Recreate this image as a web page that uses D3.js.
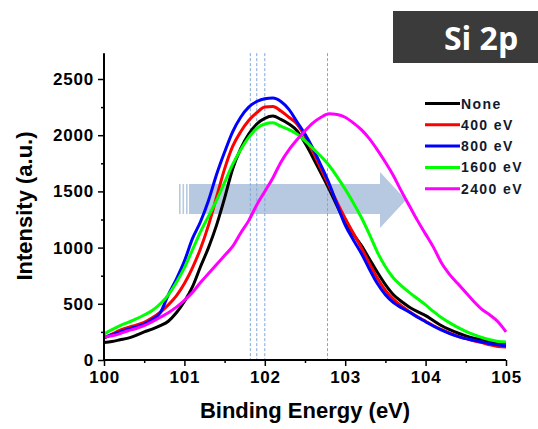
<!DOCTYPE html>
<html>
<head>
<meta charset="utf-8">
<script src="https://cdn.jsdelivr.net/npm/d3@7"></script>
<style>
  html, body { margin: 0; padding: 0; background: #fff; }
  svg { display: block; font-family: "Liberation Sans", Arial, sans-serif; }
</style>
</head>
<body>
<div id="chart"></div>
<script>
var energy = [100.0, 100.1, 100.2, 100.3, 100.4, 100.5, 100.6, 100.7, 100.8, 100.9,
              101.0, 101.1, 101.2, 101.3, 101.4, 101.5, 101.6, 101.7, 101.8, 101.9,
              102.0, 102.1, 102.2, 102.3, 102.4, 102.5, 102.6, 102.7, 102.8, 102.9,
              103.0, 103.1, 103.2, 103.3, 103.4, 103.5, 103.6, 103.7, 103.8, 103.9,
              104.0, 104.1, 104.2, 104.3, 104.4, 104.5, 104.6, 104.7, 104.8, 104.9, 105.0];

var seriesNames = ['None', '400 eV', '800 eV', '1600 eV', '2400 eV'];

var none = [155, 165, 180, 195, 220, 250, 275, 305, 345, 420,
            520, 650, 830, 1000, 1200, 1440, 1700, 1880, 2010, 2100,
            2150, 2170, 2140, 2100, 2040, 1930, 1800, 1660, 1520, 1370,
            1230, 1120, 1020, 900, 780, 670, 580, 520, 470, 430,
            395, 350, 305, 270, 240, 215, 195, 180, 165, 155, 150];

var ev400 = [195, 230, 265, 290, 310, 335, 375, 425, 490, 570,
             680, 820, 990, 1200, 1450, 1700, 1900, 2030, 2130, 2200,
             2250, 2255, 2215, 2160, 2100, 1990, 1850, 1700, 1550, 1400,
             1260, 1130, 1000, 860, 730, 620, 540, 480, 430, 385,
             345, 305, 270, 240, 210, 190, 170, 155, 135, 120, 115];

var ev800 = [200, 225, 250, 275, 295, 320, 360, 420, 580, 720,
             880, 1080, 1230, 1420, 1650, 1850, 2030, 2160, 2250, 2300,
             2325, 2330, 2300, 2230, 2120, 2010, 1880, 1730, 1570, 1380,
             1200, 1070, 950, 810, 680, 580, 510, 465, 425, 380,
             340, 300, 265, 235, 210, 190, 175, 160, 145, 135, 125];

var ev1600 = [230, 270, 305, 335, 365, 400, 440, 500, 580, 690,
              820, 980, 1140, 1280, 1420, 1580, 1740, 1870, 1980, 2060,
              2100, 2110, 2080, 2050, 2010, 1950, 1880, 1810, 1730, 1630,
              1520, 1400, 1270, 1120, 960, 830, 730, 660, 600, 545,
              490, 430, 375, 330, 290, 255, 225, 200, 180, 165, 160];

var ev2400 = [205, 215, 235, 260, 280, 305, 340, 380, 420, 470,
              530, 600, 690, 770, 850, 930, 1010, 1130, 1240, 1380,
              1500, 1620, 1760, 1870, 1960, 2040, 2110, 2160, 2190, 2185,
              2160, 2110, 2050, 1970, 1870, 1760, 1640, 1500, 1370, 1240,
              1120, 1000, 860, 760, 680, 600, 520, 450, 400, 340, 250];

var seriesColors = ['#000000', '#ff0000', '#0000ff', '#00ff00', '#ff00ff'];

// peak positions marked with dashed guides
var peakLines = [101.82, 101.9, 102.0, 102.78];

var xTicks = [100, 101, 102, 103, 104, 105];
var yTicks = [0, 500, 1000, 1500, 2000, 2500];

(function() {

  var width = 538, height = 429;
  var allSeries = [none, ev400, ev800, ev1600, ev2400];

  var svg = d3.select('#chart')
              .append('svg')
              .attr('width', width)
              .attr('height', height);

  var x = d3.scaleLinear().domain([100, 105]).range([104, 506]);
  var y = d3.scaleLinear().domain([0, 2500]).range([360, 79]);
  var yTop = y(2730);

  // big translucent arrow behind the curves
  var arrow = svg.append('g').attr('fill', '#b7c9e0');
  [179, 182.5, 186].forEach(function(sx) {
    arrow.append('rect')
      .attr('x', sx).attr('y', 184)
      .attr('width', 1.6).attr('height', 30);
  });
  arrow.append('path')
    .attr('d', 'M189,184 L380,184 L380,172 L406,200 L380,228 L380,214 L189,214 Z');

  // dashed guide lines
  svg.append('g')
    .selectAll('line')
    .data(peakLines)
    .enter()
    .append('line')
    .attr('x1', function(d) {return x(d)})
    .attr('x2', function(d) {return x(d)})
    .attr('y1', yTop)
    .attr('y2', y(0))
    .attr('stroke', '#7fa6d6')
    .attr('stroke-width', 1)
    .attr('stroke-dasharray', '3,2');

  // curves
  var line = d3.line()
    .x(function(d) {return x(d[0])})
    .y(function(d) {return y(d[1])})
    .curve(d3.curveMonotoneX);

  svg.append('g')
    .selectAll('path')
    .data(allSeries)
    .enter()
    .append('path')
    .attr('fill', 'none')
    .attr('stroke', function(d, i) {return seriesColors[i]})
    .attr('stroke-width', 3)
    .attr('d', function(d) {return line(energy.map(function(e, j) {return [e, d[j]]}))});

  // axes
  var xAxis = svg.append('g')
    .attr('transform', 'translate(0,' + y(0) + ')')
    .call(d3.axisBottom(x).tickValues(xTicks).tickSize(6).tickPadding(5).tickFormat(d3.format('d')));
  svg.append('g')
    .attr('transform', 'translate(0,' + y(0) + ')')
    .call(d3.axisBottom(x).tickValues([100.5, 101.5, 102.5, 103.5, 104.5]).tickSize(3).tickFormat(''))
    .select('.domain').remove();

  var yAxis = svg.append('g')
    .attr('transform', 'translate(' + x(100) + ',0)')
    .call(d3.axisLeft(y).tickValues(yTicks).tickSize(6).tickPadding(4).tickFormat(d3.format('d')));
  svg.append('g')
    .attr('transform', 'translate(' + x(100) + ',0)')
    .call(d3.axisLeft(y).tickValues([250, 750, 1250, 1750, 2250]).tickSize(3).tickFormat(''))
    .select('.domain').remove();

  yAxis.select('.domain').attr('d', 'M0,' + yTop + 'V' + y(0));
  xAxis.select('.domain').attr('d', 'M' + x(100) + ',0H' + x(105));

  svg.selectAll('.domain').attr('stroke', '#000').attr('stroke-width', 2);
  svg.selectAll('.tick line').attr('stroke', '#000').attr('stroke-width', 1.5);
  svg.selectAll('.tick text')
    .attr('fill', '#000')
    .attr('font-size', 17)
    .attr('font-weight', 'bold')
    .attr('letter-spacing', 0.8)
    .attr('font-family', '"Liberation Sans", Arial, sans-serif');

  // axis titles
  svg.append('text')
    .attr('x', 305)
    .attr('y', 418)
    .attr('text-anchor', 'middle')
    .attr('font-size', 22)
    .attr('font-weight', 'bold')
    .text('Binding Energy (eV)');

  svg.append('text')
    .attr('transform', 'translate(32,206) rotate(-90)')
    .attr('text-anchor', 'middle')
    .attr('font-size', 22)
    .attr('font-weight', 'bold')
    .text('Intensity (a.u.)');

  // legend
  var legend = svg.append('g')
    .selectAll('g')
    .data(seriesNames)
    .enter()
    .append('g')
    .attr('transform', function(d, i) {return 'translate(0,' + (103.5 + i * 21.3) + ')'});

  legend.append('line')
    .attr('x1', 425).attr('x2', 460)
    .attr('y1', 0).attr('y2', 0)
    .attr('stroke', function(d, i) {return seriesColors[i]})
    .attr('stroke-width', 3);

  legend.append('text')
    .attr('x', 461)
    .attr('y', 5)
    .attr('font-size', 14)
    .attr('font-weight', 'bold')
    .attr('letter-spacing', 1.4)
    .attr('fill', '#111a2e')
    .text(function(d) {return d});

  // title badge
  svg.append('rect')
    .attr('x', 393).attr('y', 11)
    .attr('width', 145).attr('height', 52)
    .attr('fill', '#3b3b3b');

  svg.append('text')
    .attr('x', 481)
    .attr('y', 50)
    .attr('text-anchor', 'middle')
    .attr('font-size', 32)
    .attr('font-weight', 'bold')
    .attr('fill', '#ffffff')
    .attr('font-family', '"Open Sans", "Liberation Sans", sans-serif')
    .text('Si 2p');

})();
</script>
</body>
</html>
